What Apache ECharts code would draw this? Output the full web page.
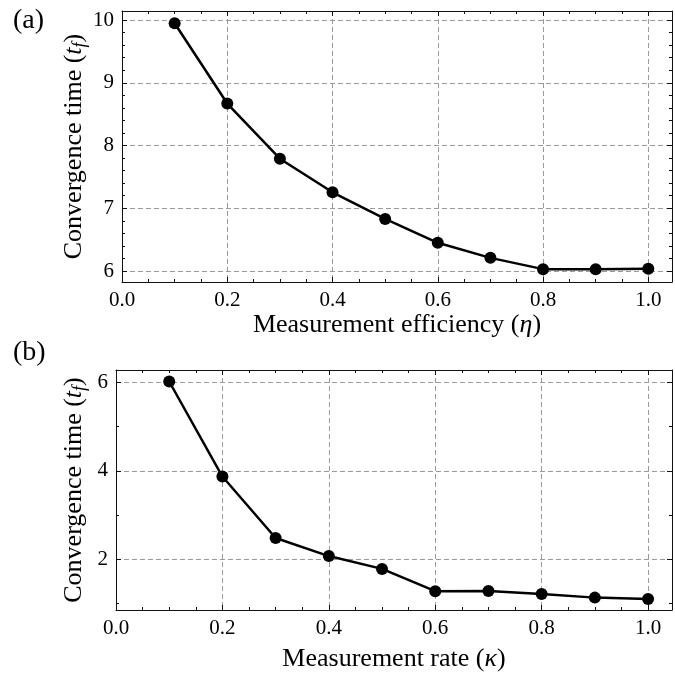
<!DOCTYPE html>
<html>
<head>
<meta charset="utf-8">
<script src="https://cdn.jsdelivr.net/npm/echarts@6/dist/echarts.min.js"></script>
<style>
  html, body { margin: 0; padding: 0; background: #fff; }
  #chart { width: 675px; height: 673px; }
</style>
</head>
<body>
<div id="chart"></div>
<script>
// ---- data ----
const etaValues = [0.1, 0.2, 0.3, 0.4, 0.5, 0.6, 0.7, 0.8, 0.9, 1.0];
const timeVsEta = [9.95, 8.67, 7.79, 7.255, 6.83, 6.45, 6.21, 6.03, 6.03, 6.035];
const kappaValues = [0.1, 0.2, 0.3, 0.4, 0.5, 0.6, 0.7, 0.8, 0.9, 1.0];
const timeVsKappa = [6.02, 3.87, 2.48, 2.07, 1.78, 1.275, 1.28, 1.21, 1.13, 1.10];
const panelLabels = ['(a)', '(b)'];
const yTitle = 'Convergence time ({it|t}{sub|f})';
const xTitleA = 'Measurement efficiency ({it|η})';
const xTitleB = 'Measurement rate ({it|κ})';

const FONT = "'Liberation Serif', 'DejaVu Serif', serif";
const richStyles = {
  it: { fontFamily: FONT, fontStyle: 'italic', fontSize: 26, color: '#000', lineHeight: 30 },
  sub: { fontFamily: FONT, fontStyle: 'italic', fontSize: 18, color: '#000', verticalAlign: 'bottom', lineHeight: 18 }
};

function isMult(v, step) {
  const r = v / step;
  return Math.abs(r - Math.round(r)) < 1e-6;
}

function xAxes(gridIndex, name, minorSplit, nameGap) {
  const common = {
    type: 'value', gridIndex: gridIndex, min: 0, max: 1.045, splitNumber: 5,
    axisLine: { show: true, onZero: false, lineStyle: { color: '#111', width: 1 } },
    axisTick: { show: true, inside: true, length: 5, lineStyle: { color: '#111', width: 1 } },
    minorTick: { show: true, splitNumber: minorSplit, length: 3, lineStyle: { color: '#111', width: 1 } }
  };
  return [
    Object.assign({}, common, {
      position: 'bottom',
      name: name, nameLocation: 'middle', nameGap: nameGap,
      nameTextStyle: { fontFamily: FONT, fontSize: 26, color: '#000', rich: richStyles },
      axisLabel: { show: true, margin: 8, fontFamily: FONT, fontSize: 21, color: '#000',
        formatter: v => isMult(v, 0.2) ? v.toFixed(1) : '' },
      splitLine: { show: true, lineStyle: { color: '#9a9a9a', width: 1, type: [5, 3] } }
    }),
    Object.assign({}, common, {
      position: 'top',
      axisLabel: { show: false },
      splitLine: { show: false }
    })
  ];
}

function yAxes(gridIndex, min, max, splitNumber, step, minorSplit, nameGap) {
  const common = {
    type: 'value', gridIndex: gridIndex, min: min, max: max, splitNumber: splitNumber,
    axisLine: { show: true, onZero: false, lineStyle: { color: '#111', width: 1 } },
    axisTick: { show: true, inside: true, length: 5, lineStyle: { color: '#111', width: 1 } },
    minorTick: { show: true, splitNumber: minorSplit, length: 3, lineStyle: { color: '#111', width: 1 } }
  };
  return [
    Object.assign({}, common, {
      position: 'left',
      name: yTitle, nameLocation: 'middle', nameGap: nameGap, nameRotate: 90,
      nameMoveOverlap: false,
      nameTextStyle: { fontFamily: FONT, fontSize: 26, color: '#000', rich: richStyles },
      axisLabel: { show: true, margin: 8, fontFamily: FONT, fontSize: 21, color: '#000',
        formatter: v => isMult(v, step) ? String(Math.round(v)) : '' },
      splitLine: { show: true, lineStyle: { color: '#9a9a9a', width: 1, type: [5, 3] } }
    }),
    Object.assign({}, common, {
      position: 'right',
      axisLabel: { show: false },
      splitLine: { show: false }
    })
  ];
}

const chart = echarts.init(document.getElementById('chart'), null, { renderer: 'canvas' });

const lineSeries = (xIdx, yIdx, xs, ys) => ({
  type: 'line', xAxisIndex: xIdx, yAxisIndex: yIdx,
  data: xs.map((x, i) => [x, ys[i]]),
  symbol: 'circle', symbolSize: 12,
  itemStyle: { color: '#000' },
  lineStyle: { color: '#000', width: 2.5 },
  animation: false, z: 5
});

chart.setOption({
  animation: false,
  backgroundColor: '#fff',
  grid: [
    { left: 122, top: 11, width: 553, height: 271 },
    { left: 116, top: 370, width: 560, height: 244 }
  ],
  xAxis: [].concat(xAxes(0, xTitleA, 4, 27), xAxes(1, xTitleB, 4, 34)),
  yAxis: [].concat(yAxes(0, 5.825, 10.145, 5, 1, 5, 33), yAxes(1, 0.85, 6.28, 3, 2, 2, 27)),
  graphic: [
    { type: 'text', left: 13, top: 7, style: { text: panelLabels[0], font: "28px " + FONT, fill: '#000' } },
    { type: 'text', left: 13, top: 339, style: { text: panelLabels[1], font: "28px " + FONT, fill: '#000' } }
  ],
  series: [
    lineSeries(0, 0, etaValues, timeVsEta),
    lineSeries(2, 2, kappaValues, timeVsKappa)
  ]
});
</script>
</body>
</html>
